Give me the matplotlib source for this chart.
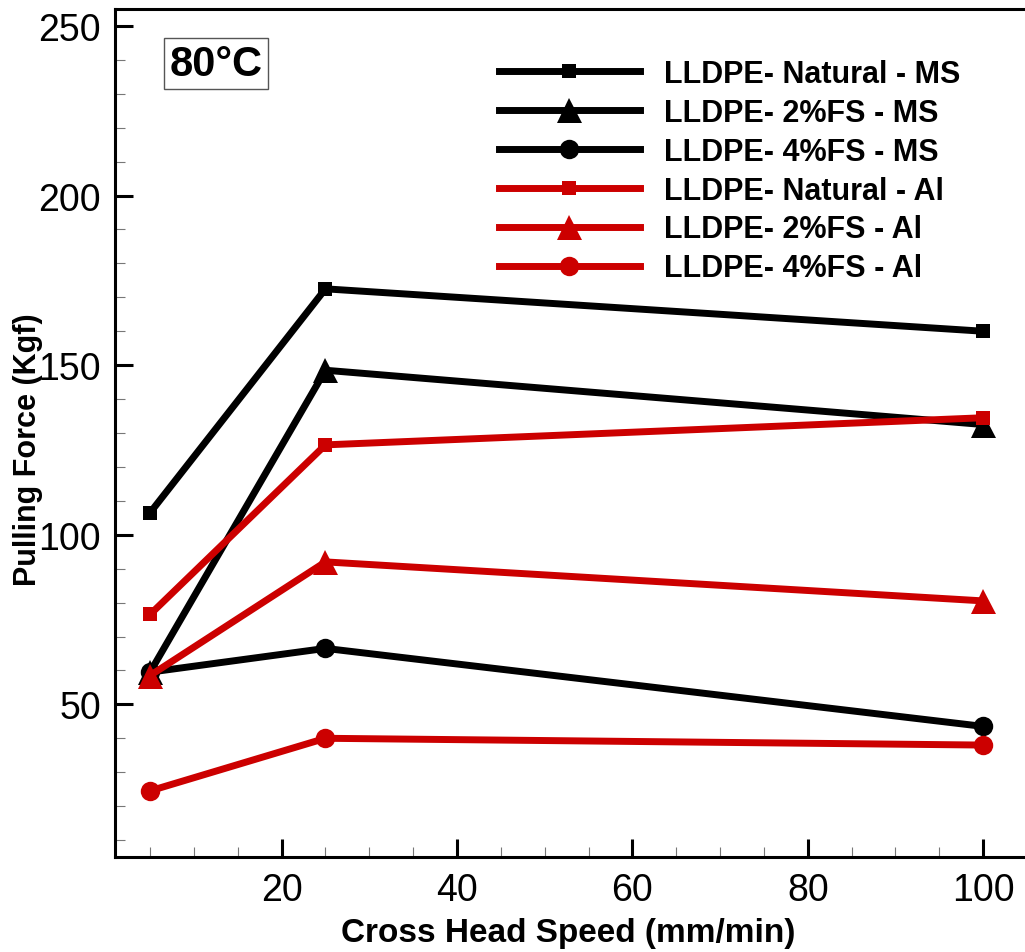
import numpy as np
import matplotlib
matplotlib.use("Agg")
import matplotlib.pyplot as plt
from matplotlib.ticker import MultipleLocator

plt.rcParams['font.family'] = ['Liberation Sans', 'DejaVu Sans']

# cross head speed (mm/min)
speed = [5, 25, 100]

# pulling force (Kgf)
natural_ms = [106.5, 172.5, 160.0]
fs2_ms = [59.5, 148.5, 132.5]
fs4_ms = [59.5, 66.5, 43.5]
natural_al = [76.5, 126.5, 134.5]
fs2_al = [58.5, 92.0, 80.5]
fs4_al = [24.5, 40.0, 38.0]

labels = ['LLDPE- Natural - MS', 'LLDPE- 2%FS - MS', 'LLDPE- 4%FS - MS',
          'LLDPE- Natural - Al', 'LLDPE- 2%FS - Al', 'LLDPE- 4%FS - Al']

BLACK = 'black'
RED = '#cc0000'

W, H = 1025, 953
fig = plt.figure(figsize=(W / 100, H / 100), dpi=100)
ax = fig.add_axes([115 / W, 95 / H, (1027 - 115) / W, (858 - 10) / H])

series = [
    (natural_ms, BLACK, 's', 9.5),
    (fs2_ms, BLACK, '^', 18),
    (fs4_ms, BLACK, 'o', 14),
    (natural_al, RED, 's', 9.5),
    (fs2_al, RED, '^', 18),
    (fs4_al, RED, 'o', 14),
]
for (vals, col, mk, ms), lab in zip(series, labels):
    ax.plot(speed, vals, color=col, lw=5, marker=mk, ms=ms,
            markeredgewidth=0, label=lab, clip_on=False)

ax.set_xlim(1, 105)
ax.set_ylim(5, 255)
ax.xaxis.set_major_locator(MultipleLocator(20))
ax.xaxis.set_minor_locator(MultipleLocator(5))
ax.yaxis.set_major_locator(MultipleLocator(50))
ax.yaxis.set_minor_locator(MultipleLocator(10))
ax.set_xticks([20, 40, 60, 80, 100])
ax.set_yticks([50, 100, 150, 200, 250])

ax.tick_params(which='major', direction='in', length=13, width=2.2,
               labelsize=27, top=False, right=False)
ax.tick_params(axis='y', which='major', pad=10)
ax.tick_params(axis='x', which='major', pad=11)
ax.tick_params(which='minor', direction='in', length=7, width=0.8,
               color='#777777', top=False, right=False)

for s in ['left', 'bottom', 'top']:
    ax.spines[s].set_linewidth(2.2)
ax.spines['right'].set_visible(False)

ax.set_xlabel('Cross Head Speed (mm/min)', fontsize=24, fontweight='bold')
ax.set_ylabel('Pulling Force (Kgf)', fontsize=22, fontweight='bold')
ax.xaxis.set_label_coords((568 - 115) / (1027 - 115), -(934 - 858) / (858 - 10))
ax.yaxis.set_label_coords(-(115 - 28) / (1027 - 115), (858 - 450) / (858 - 10))
ax.xaxis.label.set_va('center')
ax.yaxis.label.set_va('center')

leg = ax.legend(loc='upper left', bbox_to_anchor=(499 / W, 1 - 60 / H),
                bbox_transform=fig.transFigure, frameon=False,
                fontsize=22, handlelength=4.6, handletextpad=0.8,
                labelspacing=0.29, borderpad=0, borderaxespad=0)
for t in leg.get_texts():
    t.set_fontweight('bold')

fig.text(216 / W, 1 - 64.5 / H, '80°C', fontsize=30, fontweight='bold',
         ha='center', va='center',
         bbox=dict(boxstyle='square,pad=0.14', fc='white', ec='#555555', lw=1))

fig.savefig('out.png', dpi=100)
